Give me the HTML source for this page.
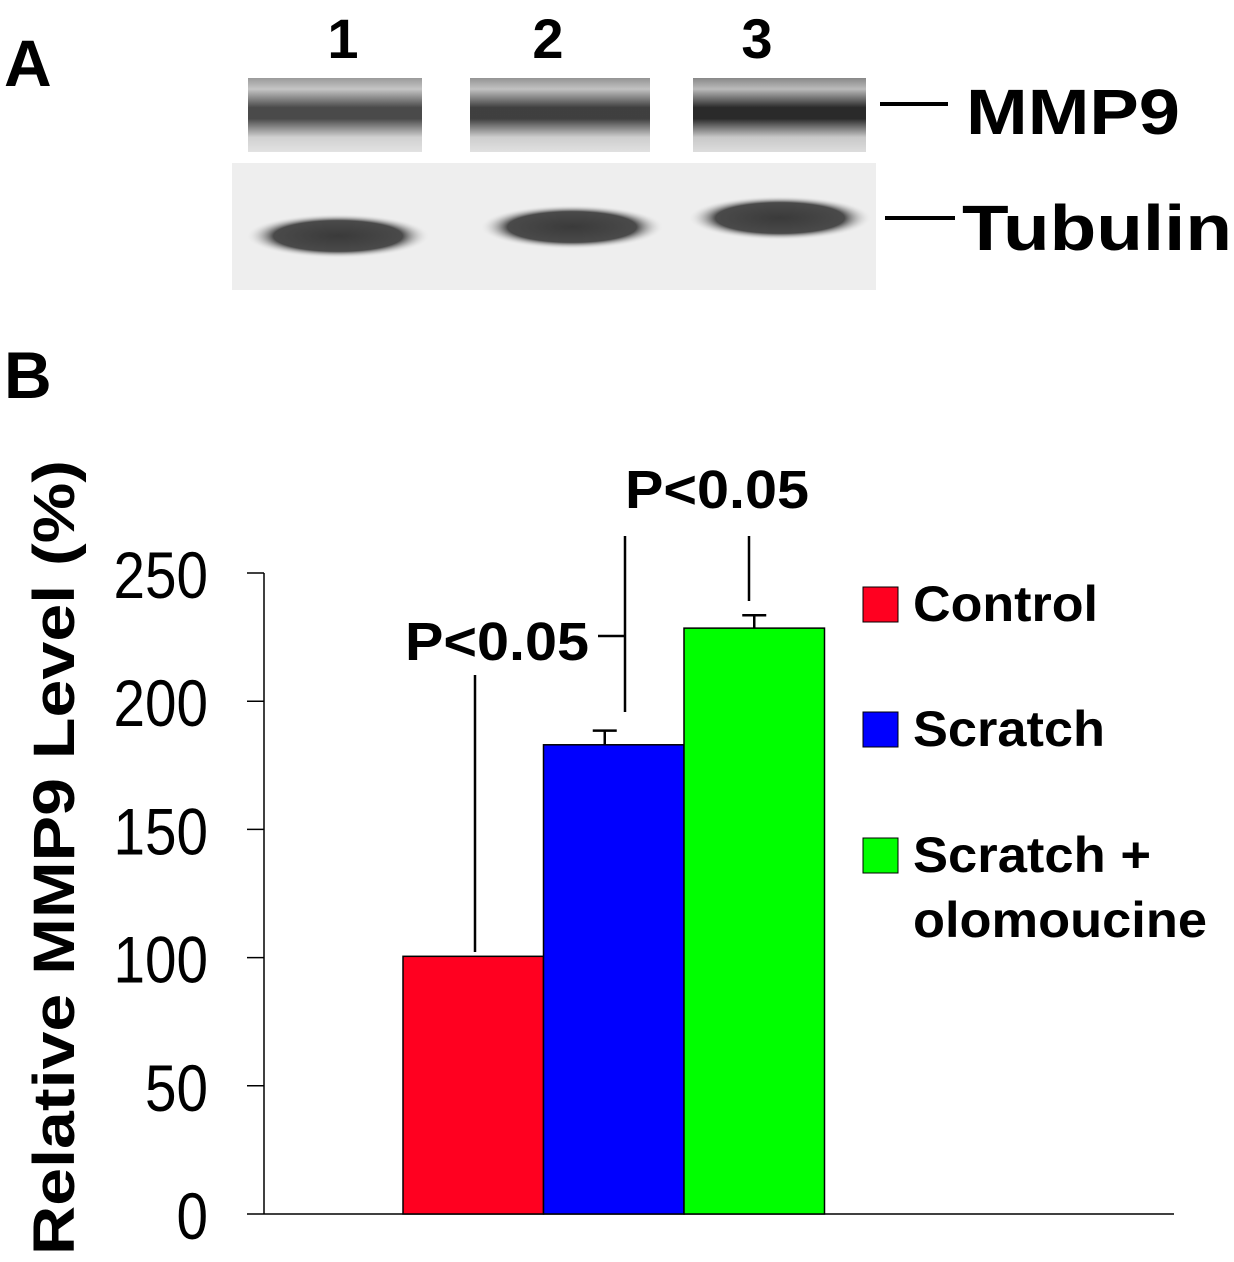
<!DOCTYPE html>
<html><head><meta charset="utf-8"><style>
body{margin:0;background:#fff}
svg{display:block;font-family:"Liberation Sans",Arial,sans-serif}
</style></head><body>
<svg width="1234" height="1262" viewBox="0 0 1234 1262">
<defs>
<linearGradient id="mmp" x1="0" y1="0" x2="0" y2="1">
<stop offset="0" stop-color="#888"/><stop offset="0.15" stop-color="#bbb"/><stop offset="0.4" stop-color="#2a2a2a"/><stop offset="0.55" stop-color="#2a2a2a"/><stop offset="0.8" stop-color="#c8c8c8"/><stop offset="1" stop-color="#ddd"/>
</linearGradient>
<radialGradient id="tub" cx="0.5" cy="0.5" r="0.5"><stop offset="0" stop-color="#3a3a3a"/><stop offset="0.7" stop-color="#4a4a4a"/><stop offset="1" stop-color="#eee" stop-opacity="0"/></radialGradient>
</defs>
<g>
<text x="4" y="86" font-size="66" font-weight="bold">A</text>
<g font-size="56" font-weight="bold" text-anchor="middle">
<text x="343" y="58">1</text>
<text x="548" y="58">2</text>
<text x="757" y="58">3</text>
</g>
<rect x="248" y="78" width="174" height="74" fill="url(#mmp)" opacity="0.85"/>
<rect x="470" y="78" width="180" height="74" fill="url(#mmp)" opacity="0.9"/>
<rect x="693" y="78" width="173" height="74" fill="url(#mmp)"/>
<rect x="232" y="163" width="644" height="127" fill="#eeeeee"/>
<ellipse cx="338" cy="236" rx="92" ry="22" fill="url(#tub)"/>
<ellipse cx="572" cy="227" rx="92" ry="22" fill="url(#tub)"/>
<ellipse cx="780" cy="218" rx="92" ry="22" fill="url(#tub)"/>
<line x1="880" y1="104" x2="948" y2="104" stroke="#000" stroke-width="4"/>
<line x1="885" y1="218" x2="955" y2="218" stroke="#000" stroke-width="4"/>
<text x="966" y="134" font-size="64" font-weight="bold" textLength="214" lengthAdjust="spacingAndGlyphs">MMP9</text>
<text x="962" y="250" font-size="64" font-weight="bold" textLength="270" lengthAdjust="spacingAndGlyphs">Tubulin</text>
</g>
<text x="4" y="398" font-size="66" font-weight="bold">B</text>
<g id="chart"></g>
</svg>
<script>
const categories=["Control","Scratch","Scratch + olomoucine"];
const values=[100.5,183,228.5];
const errors=[0,5.5,5];
const colors=["#ff0020","#0000ff","#00ff00"];
const ticks=[0,50,100,150,200,250];
const NS="http://www.w3.org/2000/svg";
const g=document.getElementById('chart');
const y0=1214,pxPer=641/250;
const Y=v=>y0-v*pxPer;
const barX=i=>403+i*140.5, barW=140.5;
function mk(t,a,p){const e=document.createElementNS(NS,t);for(const k in a)e.setAttribute(k,a[k]);(p||g).appendChild(e);return e;}
const ya=mk('line',{x1:264,y1:Y(250),x2:264,y2:y0,stroke:'#000','stroke-width':1.5});


const xa=mk('line',{x1:264,y1:y0,x2:1174,y2:y0,stroke:'#000','stroke-width':1.5});


ticks.forEach(t=>{
 const l=mk('line',{x1:247,y1:Y(t),x2:264,y2:Y(t),stroke:'#000','stroke-width':1.5});
 
 
 const s=String(t);
 const w=s.length*31.5;
 const tx=mk('text',{x:208-w,y:Y(t)+25,'font-size':66,textLength:w,lengthAdjust:'spacingAndGlyphs'});
 tx.textContent=s;
 
 
});
const yt=mk('text',{x:-397,y:0,'font-size':58,'font-weight':'bold',transform:'translate(74,858) rotate(-90)',textLength:795,lengthAdjust:'spacingAndGlyphs'});
yt.textContent="Relative MMP9 Level (%)";


values.forEach((v,i)=>{
 const r=mk('rect',{x:barX(i),y:Y(v),width:barW,height:y0-Y(v),fill:colors[i],stroke:'#000','stroke-width':1.5});
 
 
 if(errors[i]>0){
  const cx=barX(i)+barW/2+(i==1?-9:0);
  const e=mk('path',{d:`M${cx},${Y(v)} V${Y(v+errors[i])} M${cx-12},${Y(v+errors[i])} H${cx+12}`,stroke:'#000','stroke-width':2.5,fill:'none'});
  
  
 }
});
const s=mk('path',{d:'M475,675 V952 M625,536 V712 M598,636 H625 M749,536 V601',stroke:'#000','stroke-width':2.5,fill:'none'});


[[405,660],[625,508]].forEach((p,i)=>{
 const t=mk('text',{x:p[0],y:p[1],'font-size':54,'font-weight':'bold',textLength:184,lengthAdjust:'spacingAndGlyphs'});
 t.textContent="P<0.05";
 
 
});
const legY=[587,712,838];
const legText=[["Control"],["Scratch"],["Scratch +","olomoucine"]];
const legW=[[185],[192],[238,294]];
categories.forEach((c,i)=>{
 const r=mk('rect',{x:863,y:legY[i],width:35,height:35,fill:colors[i],stroke:'#000','stroke-width':1});
 
 
 legText[i].forEach((ln,j)=>{
  const t=mk('text',{x:913,y:legY[i]+34+j*65,'font-size':50,'font-weight':'bold',textLength:legW[i][j],lengthAdjust:'spacingAndGlyphs'});
  t.textContent=ln;
  
  
 });
});
</script>
</body></html>
